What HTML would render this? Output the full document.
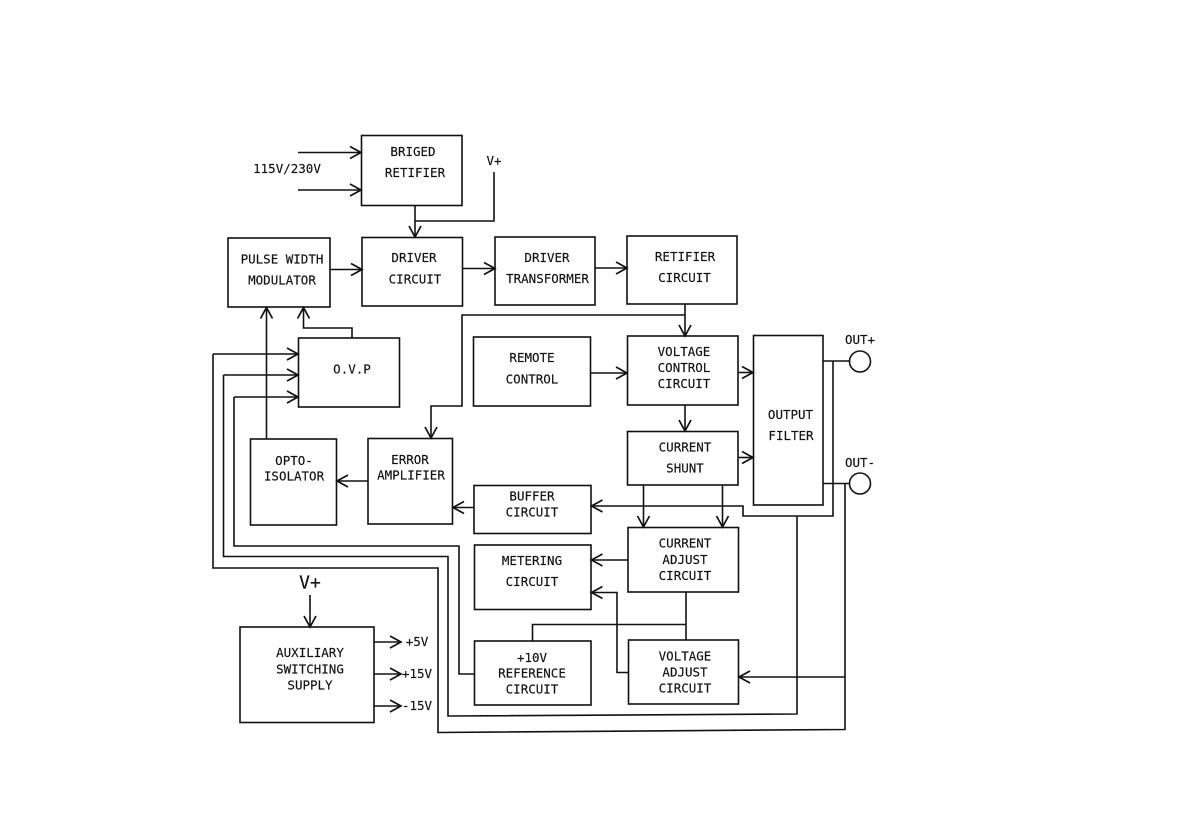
<!DOCTYPE html>
<html>
<head>
<meta charset="utf-8">
<style>
html,body{margin:0;padding:0;background:#fff}
svg{display:block}
.b rect{fill:none;stroke:#111;stroke-width:1.6}
.w path{fill:none;stroke:#111;stroke-width:1.6}
text{font-family:"DejaVu Sans Mono","Liberation Mono",monospace;font-size:12.5px;fill:#111;stroke:#111;stroke-width:.15;text-anchor:middle}
</style>
</head>
<body>
<svg width="1191" height="839" viewBox="0 0 1191 839" xmlns="http://www.w3.org/2000/svg">
<defs>
<marker id="a" markerUnits="userSpaceOnUse" markerWidth="14" markerHeight="14" refX="12" refY="7" orient="auto" overflow="visible">
<path d="M1,1 L12,7 L1,13" fill="none" stroke="#111" stroke-width="1.7"/>
</marker>
</defs>
<rect width="1191" height="839" fill="#fff"/>
<g class="b">
<rect x="361.5" y="135.5" width="100.5" height="70"/>
<rect x="362" y="237.5" width="100.5" height="68.5"/>
<rect x="228" y="238" width="102" height="69"/>
<rect x="495" y="237" width="100" height="68"/>
<rect x="627" y="236" width="110" height="68"/>
<rect x="298.5" y="338" width="101" height="69"/>
<rect x="473.5" y="337" width="117" height="69"/>
<rect x="627.5" y="336" width="110.5" height="69"/>
<rect x="753.5" y="335.5" width="69.5" height="169.5"/>
<rect x="627.5" y="431.5" width="110.5" height="53.5"/>
<rect x="250.5" y="439" width="86" height="86"/>
<rect x="368" y="438.5" width="84.5" height="85.5"/>
<rect x="474" y="485.5" width="117" height="48"/>
<rect x="474.5" y="545" width="116.5" height="64.5"/>
<rect x="628" y="527.5" width="110.5" height="64.5"/>
<rect x="474.5" y="641" width="116.5" height="64"/>
<rect x="628.5" y="640" width="110" height="64"/>
<rect x="240" y="627" width="134" height="95.5"/>
</g>
<g class="w">
<path d="M298,152.5H361" marker-end="url(#a)"/>
<path d="M298,190H361" marker-end="url(#a)"/>
<path d="M415,205.5V237" marker-end="url(#a)"/>
<path d="M494,172V221H415"/>
<path d="M330,269.5H362" marker-end="url(#a)"/>
<path d="M462.5,268.5H495" marker-end="url(#a)"/>
<path d="M595,268H627" marker-end="url(#a)"/>
<path d="M352,338V328H303.5V307.5" marker-end="url(#a)"/>
<path d="M266.5,439V307.5" marker-end="url(#a)"/>
<path d="M213,354V568H438V732.5L845,729.5V483.5"/>
<path d="M213,354H298" marker-end="url(#a)"/>
<path d="M223.5,375H298" marker-end="url(#a)"/>
<path d="M234,397H298" marker-end="url(#a)"/>
<path d="M223.5,375V556.5H448V716L797,714V516"/>
<path d="M234,397V546H459V674H474.5"/>
<path d="M685,304V336" marker-end="url(#a)"/>
<path d="M685,315H462V406H431V438" marker-end="url(#a)"/>
<path d="M590.5,373H627" marker-end="url(#a)"/>
<path d="M738,372.5H753" marker-end="url(#a)"/>
<path d="M685,405V431" marker-end="url(#a)"/>
<path d="M738,457.5H753" marker-end="url(#a)"/>
<path d="M643.5,485V527" marker-end="url(#a)"/>
<path d="M722.5,485V527" marker-end="url(#a)"/>
<path d="M823,361H849.5"/>
<path d="M823,483.5H849.5"/>
<path d="M833,361V516H743V506H591.5" marker-end="url(#a)"/>
<path d="M845,677H739" marker-end="url(#a)"/>
<path d="M474,507.5H453" marker-end="url(#a)"/>
<path d="M368,481H337" marker-end="url(#a)"/>
<path d="M628,560H591.5" marker-end="url(#a)"/>
<path d="M628.5,672.5H617V592.5H591.5" marker-end="url(#a)"/>
<path d="M686,592V640"/>
<path d="M686,624.5H532.5V641"/>
<path d="M310,595V627" marker-end="url(#a)"/>
<path d="M374,642H401" marker-end="url(#a)"/>
<path d="M374,674H401" marker-end="url(#a)"/>
<path d="M374,706H401" marker-end="url(#a)"/>
</g>
<circle cx="860" cy="361.5" r="10.5" fill="#fff" stroke="#111" stroke-width="1.6"/>
<circle cx="860" cy="483.5" r="10.5" fill="#fff" stroke="#111" stroke-width="1.6"/>
<g transform="translate(0,-0.5)">
<text x="413" y="156.5">BRIGED</text>
<text x="415" y="177.5">RETIFIER</text>
<text x="494" y="165.5">V+</text>
<text x="287" y="173.5">115V/230V</text>
<text x="282" y="264">PULSE WIDTH</text>
<text x="282" y="285">MODULATOR</text>
<text x="414" y="262.5">DRIVER</text>
<text x="415" y="284">CIRCUIT</text>
<text x="547" y="262.5">DRIVER</text>
<text x="547.5" y="283.5">TRANSFORMER</text>
<text x="685" y="261.5">RETIFIER</text>
<text x="684.5" y="282.5">CIRCUIT</text>
<text x="352" y="374">O.V.P</text>
<text x="532" y="362.5">REMOTE</text>
<text x="532" y="384">CONTROL</text>
<text x="684" y="356.5">VOLTAGE</text>
<text x="684" y="372.5">CONTROL</text>
<text x="684" y="388.5">CIRCUIT</text>
<text x="790.5" y="419.5">OUTPUT</text>
<text x="791" y="440.5">FILTER</text>
<text x="860" y="344.5">OUT+</text>
<text x="860" y="467.5">OUT-</text>
<text x="685" y="452">CURRENT</text>
<text x="685" y="473">SHUNT</text>
<text x="294" y="465.5">OPTO-</text>
<text x="294" y="481">ISOLATOR</text>
<text x="410" y="464.5">ERROR</text>
<text x="411" y="480">AMPLIFIER</text>
<text x="532" y="501">BUFFER</text>
<text x="532" y="517">CIRCUIT</text>
<text x="532" y="565.5">METERING</text>
<text x="532" y="586.5">CIRCUIT</text>
<text x="685" y="548">CURRENT</text>
<text x="685" y="564.5">ADJUST</text>
<text x="685" y="580.5">CIRCUIT</text>
<text x="532" y="662.5">+10V</text>
<text x="532" y="678">REFERENCE</text>
<text x="532" y="694">CIRCUIT</text>
<text x="685" y="661">VOLTAGE</text>
<text x="685" y="677">ADJUST</text>
<text x="685" y="693">CIRCUIT</text>
<text x="310" y="657.5">AUXILIARY</text>
<text x="310" y="674">SWITCHING</text>
<text x="310" y="690">SUPPLY</text>
<text x="310" y="589" style="font-size:18px">V+</text>
<text x="417" y="646.5">+5V</text>
<text x="417" y="678.5">+15V</text>
<text x="417" y="710.5">-15V</text>
</g>
</svg>
</body>
</html>
